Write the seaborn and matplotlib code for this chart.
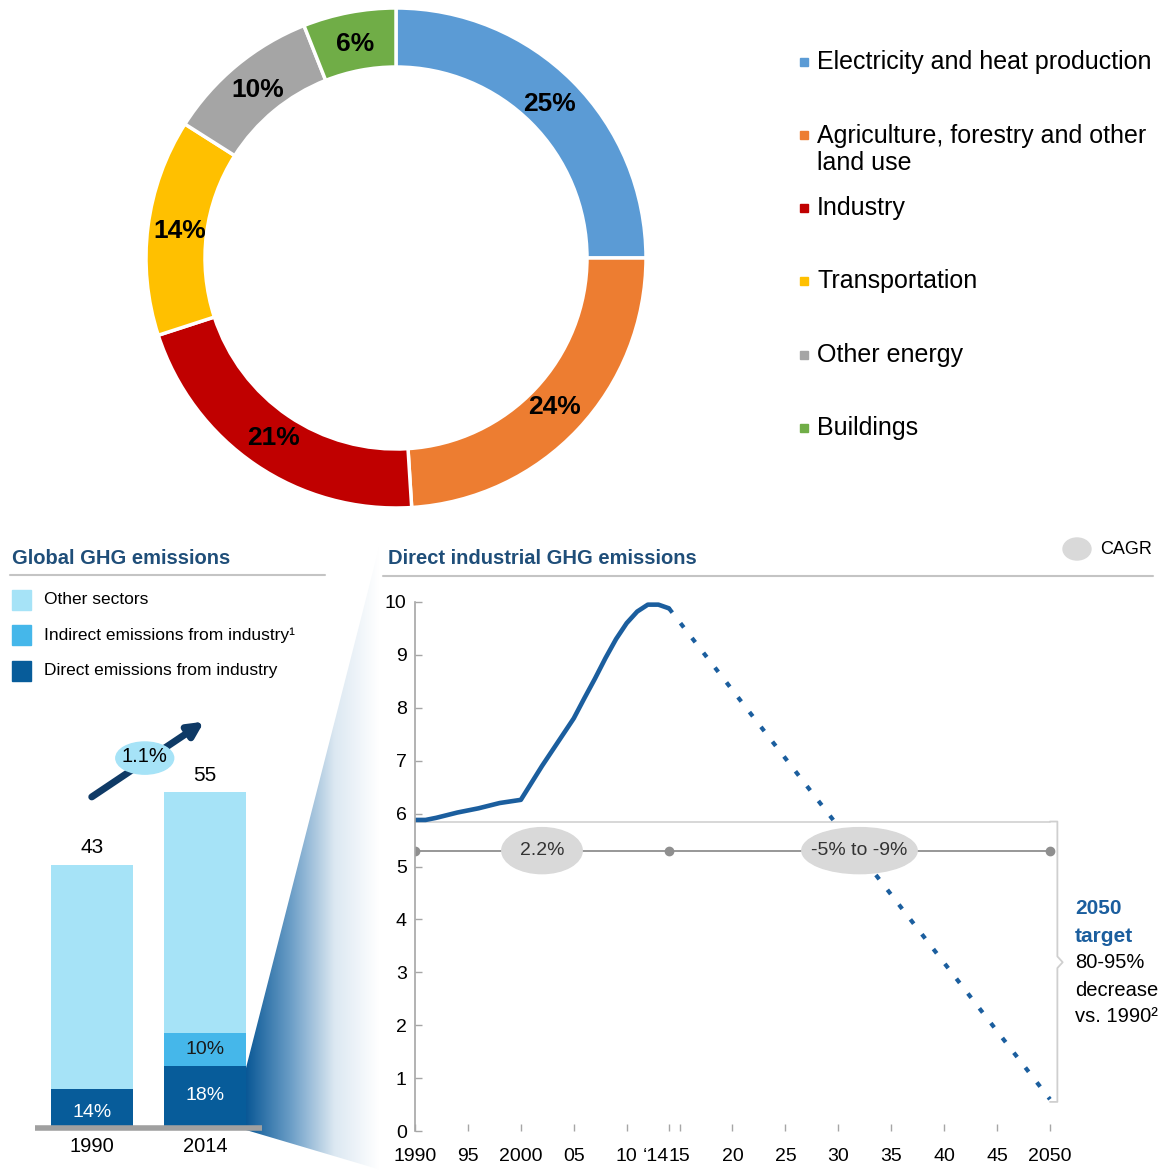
import numpy as np
import matplotlib
matplotlib.use('Agg')
import matplotlib.pyplot as plt
import seaborn as sns
from matplotlib.patches import Ellipse, Polygon, Rectangle
from matplotlib.colors import LinearSegmentedColormap

# ---- data ----
sectors = ['Electricity and heat production',
           'Agriculture, forestry and other\nland use',
           'Industry', 'Transportation', 'Other energy', 'Buildings']
sector_share = [25, 24, 21, 14, 10, 6]
sector_colors = ['#5B9BD5', '#ED7D31', '#C00000', '#FFC000', '#A5A5A5', '#70AD47']

bar_years = ['1990', '2014']
bar_totals = np.array([43, 55])
direct_pct = np.array([14, 18])
indirect_pct = np.array([0, 10])
bar_series = ['Other sectors', 'Indirect emissions from industry\u00b9', 'Direct emissions from industry']
bar_colors = ['#A6E3F7', '#45B7EA', '#075C9A']
bar_cagr = '1.1%'

hist_years = list(range(1990, 2015))
hist_vals = [5.88, 5.88, 5.92, 5.97, 6.02, 6.06, 6.10, 6.15, 6.20, 6.23, 6.26,
             6.58, 6.90, 7.20, 7.50, 7.80, 8.18, 8.55, 8.94, 9.30, 9.60,
             9.82, 9.95, 9.95, 9.88]
proj_years = [2014, 2050]
proj_vals = [9.88, 0.6]
cagr_points = [1990, 2014, 2050]
cagr_labels = ['2.2%', '-5% to -9%']
x_ticks = [1990, 1995, 2000, 2005, 2010, 2014, 2015, 2020, 2025, 2030, 2035, 2040, 2045, 2050]
x_labels = ['1990', '95', '2000', '05', '10', '\u201814', '15', '20', '25', '30', '35', '40', '45', '2050']

# ---- style ----
sns.set_theme(style='white')
plt.rcParams['font.family'] = ['Liberation Sans', 'DejaVu Sans']
plt.rcParams['text.color'] = 'black'
plt.rcParams['xtick.labelcolor'] = 'black'
plt.rcParams['ytick.labelcolor'] = 'black'

W, H = 1163, 1170
fig = plt.figure(figsize=(W / 100, H / 100), dpi=100)

# pixel overlay for decorations
bg = fig.add_axes([0, 0, 1, 1], zorder=0)
bg.patch.set_alpha(0)

def px_axes(left, top, width, height):
    ax = fig.add_axes([left / W, 1 - (top + height) / H, width / W, height / H], zorder=2)
    ax.patch.set_alpha(0)
    return ax

title_c = '#1F4E79'
line_c = '#1B5E9E'

# ---- donut ----
ax_pie = px_axes(146, 8, 500, 500)
ax_pie.pie(sector_share, colors=sector_colors, startangle=90, counterclock=False,
           wedgeprops=dict(width=0.236, edgecolor='white', linewidth=2.5),
           autopct=lambda p: f'{p:.0f}%', pctdistance=0.87,
           textprops=dict(fontsize=19, fontweight='bold', color='black'))
ax_pie.set_xlim(-1, 1)
ax_pie.set_ylim(-1, 1)
ax_pie.set_aspect('equal')

leg_y = [62, 149.5, 208, 281, 355, 428]
mark_y = [62, 135, 208, 281, 355, 428]
for lab, c, ty, my in zip(sectors, sector_colors, leg_y, mark_y):
    bg.add_patch(Rectangle((800, my - 4), 8, 8, color=c))
    bg.text(817, ty, lab, fontsize=18, va='center', ha='left', linespacing=1.15)

# ---- gradient wedge ----
cmap = LinearSegmentedColormap.from_list('fade', ['#0A5896', '#6A9DC6', '#DCE8F2', '#FFFFFF'])
grad = np.linspace(0, 1, 256).reshape(1, -1)
im = bg.imshow(grad, cmap=cmap, extent=[246, 379, 1170, 530], aspect='auto', zorder=1)
poly = Polygon([(246, 1068), (381, 540), (381, 1170), (246, 1130)], closed=True,
               transform=bg.transData)
im.set_clip_path(poly)

# ---- bottom-left titles/legend ----
bg.text(12, 558, 'Global GHG emissions', fontsize=14.5, fontweight='bold', color=title_c, va='center')
bg.plot([10, 325], [575, 575], color='#C4C4C4', lw=1.5)
for lab, c, y in zip(bar_series, bar_colors, [600, 635, 671]):
    bg.add_patch(Rectangle((12, y - 10), 19, 20, color=c))
    bg.text(44, y, lab, fontsize=12.5, va='center', ha='left')

bg.text(388, 558, 'Direct industrial GHG emissions', fontsize=14.5, fontweight='bold', color=title_c, va='center')
bg.plot([383, 1153], [576, 576], color='#C4C4C4', lw=1.5)
bg.add_patch(Ellipse((1077, 549), 28, 22, color='#D9D9D9'))
bg.text(1100, 550, 'CAGR', fontsize=13, va='center', ha='left')

# right annotation
bg.text(1075, 908, '2050', fontsize=15, fontweight='bold', color=line_c, va='center')
bg.text(1075, 936, 'target', fontsize=15, fontweight='bold', color=line_c, va='center')
for t, y in zip(['80-95%', 'decrease', 'vs. 1990\u00b2'], [962, 990, 1016]):
    bg.text(1075, y, t, fontsize=14.5, va='center')

bg.set_xlim(0, W)
bg.set_ylim(H, 0)
bg.axis('off')

# ---- stacked bars ----
ax_bar = px_axes(35, 701, 227, 425)
direct = bar_totals * direct_pct / 100
indirect = bar_totals * indirect_pct / 100
sns.barplot(x=bar_years, y=bar_totals, color=bar_colors[0], width=0.72, saturation=1, linewidth=0, ax=ax_bar)
sns.barplot(x=bar_years, y=direct + indirect, color=bar_colors[1], width=0.72, saturation=1, linewidth=0, ax=ax_bar)
sns.barplot(x=bar_years, y=direct, color=bar_colors[2], width=0.72, saturation=1, linewidth=0, ax=ax_bar)
ax_bar.set_xlim(-0.5, 1.5)
ax_bar.set_ylim(0, 70)
ax_bar.axhline(-0.3, color='#A0A0A0', lw=4, zorder=5, clip_on=False, solid_capstyle='butt')
for i, tot in enumerate(bar_totals):
    ax_bar.text(i, tot + 2.8, f'{tot}', ha='center', va='center', fontsize=15)
    ax_bar.text(i, direct[i] / 2 - (0.8 if i == 0 else 0), f'{direct_pct[i]}%', ha='center', va='center',
                fontsize=14, color='white')
    if indirect_pct[i] > 0:
        ax_bar.text(i, direct[i] + indirect[i] / 2, f'{indirect_pct[i]}%', ha='center', va='center',
                    fontsize=14, color='#1a1a1a')
ax_bar.annotate('', xy=(0.99, 66.6), xytext=(0.0, 54.2),
                arrowprops=dict(arrowstyle='-|>', lw=5, color='#0F3A66', mutation_scale=22,
                                shrinkA=0, shrinkB=0))
ax_bar.add_patch(Ellipse((0.467, 60.6), 0.51, 5.3, color='#A6E3F7', zorder=6))
ax_bar.text(0.467, 60.8, bar_cagr, ha='center', va='center', fontsize=14.5, zorder=7)
ax_bar.set_yticks([])
ax_bar.set_xlabel('')
ax_bar.tick_params(axis='x', length=0, pad=8, labelsize=14.5)
sns.despine(ax=ax_bar, left=True, bottom=True)

# ---- line chart ----
ax_ln = px_axes(415, 602, 740.8, 529)
ax_ln.plot([1990, 2050], [hist_vals[0] - 0.03] * 2, color='#D4D4D4', lw=1.3, zorder=1)
ax_ln.plot([2050, 2050.7, 2050.7, 2051.2, 2050.7, 2050.7, 2050],
           [5.85, 5.85, 3.3, 3.19, 3.08, 0.55, 0.55], color='#CFCFCF', lw=1.3, clip_on=False)
sns.lineplot(x=hist_years, y=hist_vals, color=line_c, lw=3.3, ax=ax_ln, zorder=4)
sns.lineplot(x=proj_years, y=proj_vals, color=line_c, lw=3, linestyle=(0, (1.3, 3.2)), ax=ax_ln, zorder=3)
ax_ln.plot(cagr_points, [5.3] * 3, color='#8F8F8F', lw=1.3, marker='o', ms=6, zorder=5)
for cx, w, lab in zip([2002, 2032], [7.6, 10.9], cagr_labels):
    ax_ln.add_patch(Ellipse((cx, 5.3), w, 0.87, color='#D9D9D9', zorder=6))
    ax_ln.text(cx, 5.3, lab, ha='center', va='center', fontsize=14, color='#333333', zorder=7)
ax_ln.set_xlim(1990, 2060)
ax_ln.set_ylim(0, 10)
ax_ln.set_yticks(range(0, 11))
ax_ln.set_xticks(x_ticks)
ax_ln.set_xticklabels(x_labels)
for t in ax_ln.get_xticklabels():
    if t.get_text() == '\u201814':
        t.set_ha('right')
ax_ln.tick_params(axis='y', direction='in', length=5, width=1, color='#A6A6A6', labelsize=14, pad=6, left=True)
ax_ln.tick_params(axis='x', direction='in', length=5, width=1, color='#A6A6A6', labelsize=14, pad=12, bottom=True)
ax_ln.set_xlabel('')
ax_ln.set_ylabel('')
sns.despine(ax=ax_ln, bottom=True)
ax_ln.spines['left'].set_color('#A6A6A6')
ax_ln.spines['left'].set_linewidth(1.2)
ax_ln.spines['left'].set_zorder(8)

fig.savefig('out.png', dpi=100, facecolor='white')
